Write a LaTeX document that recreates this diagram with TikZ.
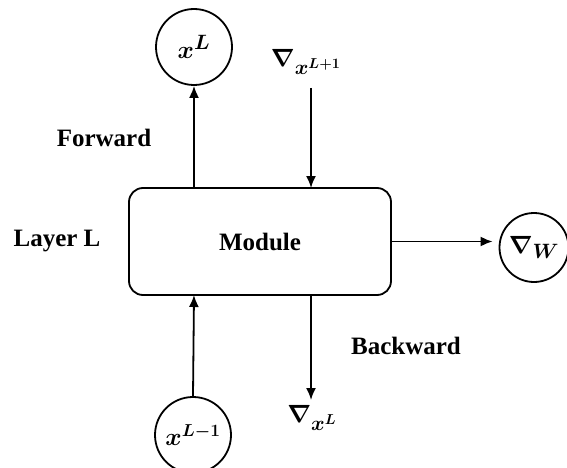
\documentclass[tikz,border=0pt]{standalone}
\usepackage{fontspec}
\usepackage{bm}
\setmainfont{Liberation Serif}
\usetikzlibrary{arrows.meta}
\begin{document}
\begin{tikzpicture}[x=1pt,y=-1pt,
  lbl/.style={font=\fontsize{25}{30}\selectfont\bfseries, inner sep=0pt},
  mlbl/.style={font=\fontsize{28}{32}\selectfont, inner sep=0pt},
  circ/.style={draw, circle, line width=1.8pt, inner sep=0pt, font=\fontsize{30}{34}\selectfont},
  arr/.style={line width=1.8pt, -{Latex[length=12pt,width=10pt]}}]
\useasboundingbox (0,0) rectangle (567,468);
\clip (0,0) rectangle (567,468);
\node[draw, line width=1.8pt, rounded corners=14pt, minimum width=262pt, minimum height=107pt,
      lbl] (mod) at (260,241.5) {Module};
\node[circ, minimum size=76pt] (xl) at (194,47) {$\bm{x}^{\bm{L}}$};
\node[circ, minimum size=76pt, font=\fontsize{27}{32}\selectfont] (xlm) at (193,435) {$\bm{x}^{\bm{L-1}}$};
\node[circ, minimum size=69pt] (w) at (534,247.5) {$\bm{\nabla}_{\bm{W}}$};
\node[mlbl] (gtop) at (306,62) {$\bm{\nabla}_{\bm{x}^{\bm{L+1}}}$};
\node[mlbl] (gbot) at (312,418) {$\bm{\nabla}_{\bm{x}^{\bm{L}}}$};
\node[lbl] (fw) at (104,138) {Forward};
\node[lbl] (layer) at (57,241) {Layer L};
\node[lbl] (bw) at (406,346) {Backward};
\coordinate (a) at (194,188);
\coordinate (b) at (311,88);
\coordinate (c) at (311,188);
\coordinate (d) at (194,295);
\coordinate (e) at (311,295);
\coordinate (f) at (311,400);
\draw[arr] (a) -- (xl.south);
\draw[arr] (b) -- (c);
\draw[arr] (xlm.north) -- (d);
\draw[arr] (e) -- (f);
\draw[arr, shorten >=6pt] (mod.east) -- (mod.east -| w.west);
\end{tikzpicture}
\end{document}
